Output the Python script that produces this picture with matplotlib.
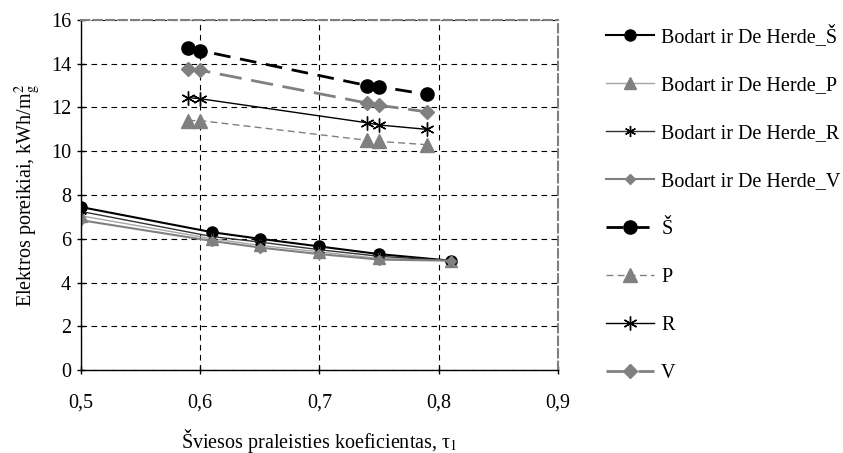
import matplotlib
matplotlib.use("Agg")
import matplotlib.pyplot as plt

plt.rcParams['font.family'] = ['Liberation Serif', 'DejaVu Serif']
plt.rcParams['mathtext.fontset'] = 'stix'

# Bodart ir De Herde series
x_bd = [0.50, 0.61, 0.65, 0.70, 0.75, 0.81]
bd_S = [7.45, 6.30, 6.00, 5.65, 5.30, 5.00]
bd_P = [7.05, 6.00, 5.70, 5.40, 5.10, 5.00]
bd_R = [7.25, 6.10, 5.85, 5.50, 5.20, 5.00]
bd_V = [6.85, 5.90, 5.60, 5.30, 5.05, 5.00]

# Own series
x_own = [0.59, 0.60, 0.74, 0.75, 0.79]
own_S = [14.70, 14.60, 13.00, 12.95, 12.60]
own_P = [11.40, 11.40, 10.50, 10.45, 10.30]
own_R = [12.45, 12.40, 11.30, 11.20, 11.00]
own_V = [13.75, 13.70, 12.20, 12.10, 11.80]

xticks = [0.5, 0.6, 0.7, 0.8, 0.9]
xtick_labels = ['0,5', '0,6', '0,7', '0,8', '0,9']
yticks = [0, 2, 4, 6, 8, 10, 12, 14, 16]

FS = 14.5
star = (6, 2, 0)

fig = plt.figure(figsize=(8.43, 4.53), dpi=100)
ax = fig.add_axes([0.096, 0.183, 0.566, 0.773])

h = []
h += ax.plot(x_bd, bd_S, color='black', lw=1.5, marker='o', ms=8,
             label='Bodart ir De Herde_Š')
h += ax.plot(x_bd, bd_P, color='#a6a6a6', lw=1.0, marker='^', ms=8,
             mfc='#808080', mec='#808080', label='Bodart ir De Herde_P')
h += ax.plot(x_bd, bd_R, color='#333333', lw=1.0, marker=star, ms=8,
             mec='black', label='Bodart ir De Herde_R')
h += ax.plot(x_bd, bd_V, color='#808080', lw=1.5, marker='D', ms=5.5,
             mfc='#808080', mec='#808080', label='Bodart ir De Herde_V')

h += ax.plot(x_own, own_S, color='black', lw=2.0, ls=(0, (6, 3.5)), marker='o', ms=9.5,
             label='Š')
h += ax.plot(x_own, own_P, color='#808080', lw=1.0, ls=(0, (5, 3)), marker='^', ms=9.5,
             mfc='#808080', mec='#808080', label='P')
h += ax.plot(x_own, own_R, color='black', lw=1.0, marker=star, ms=10, mew=1.0,
             label='R')
h += ax.plot(x_own, own_V, color='#808080', lw=2.0, ls=(0, (8, 3.5)), marker='D', ms=7,
             mfc='#808080', mec='#808080', label='V')

ax.set_xlim(0.5, 0.9)
ax.set_ylim(0, 16)
ax.set_xticks(xticks)
ax.set_xticklabels(xtick_labels)
ax.set_yticks(yticks)
ax.tick_params(labelsize=FS, length=6, direction='inout', width=1)
ax.tick_params(axis='x', pad=14)
ax.tick_params(axis='y', pad=4)
ax.grid(True, color='black', ls=(0, (5, 4)), lw=0.8)
ax.set_axisbelow(True)
for s in ['top', 'right']:
    ax.spines[s].set_color('#808080')
    ax.spines[s].set_linestyle((0, (4, 2)))
    ax.spines[s].set_linewidth(1.5)
for s in ['left', 'bottom']:
    ax.spines[s].set_color('black')
    ax.spines[s].set_linewidth(1.0)

ax.set_xlabel('Šviesos praleisties koeficientas, τ$_1$', fontsize=FS, labelpad=10)
ax.set_ylabel(r'Elektros poreikiai, kWh/m$^{2}_{\mathrm{g}}$', fontsize=FS, labelpad=6)

fig.legend(handles=h, loc='upper left', bbox_to_anchor=(0.7095, 0.963),
           frameon=False, fontsize=FS, labelspacing=1.44, handlelength=2.4,
           handletextpad=0.33, borderaxespad=0)

fig.savefig('out.png', dpi=100)
